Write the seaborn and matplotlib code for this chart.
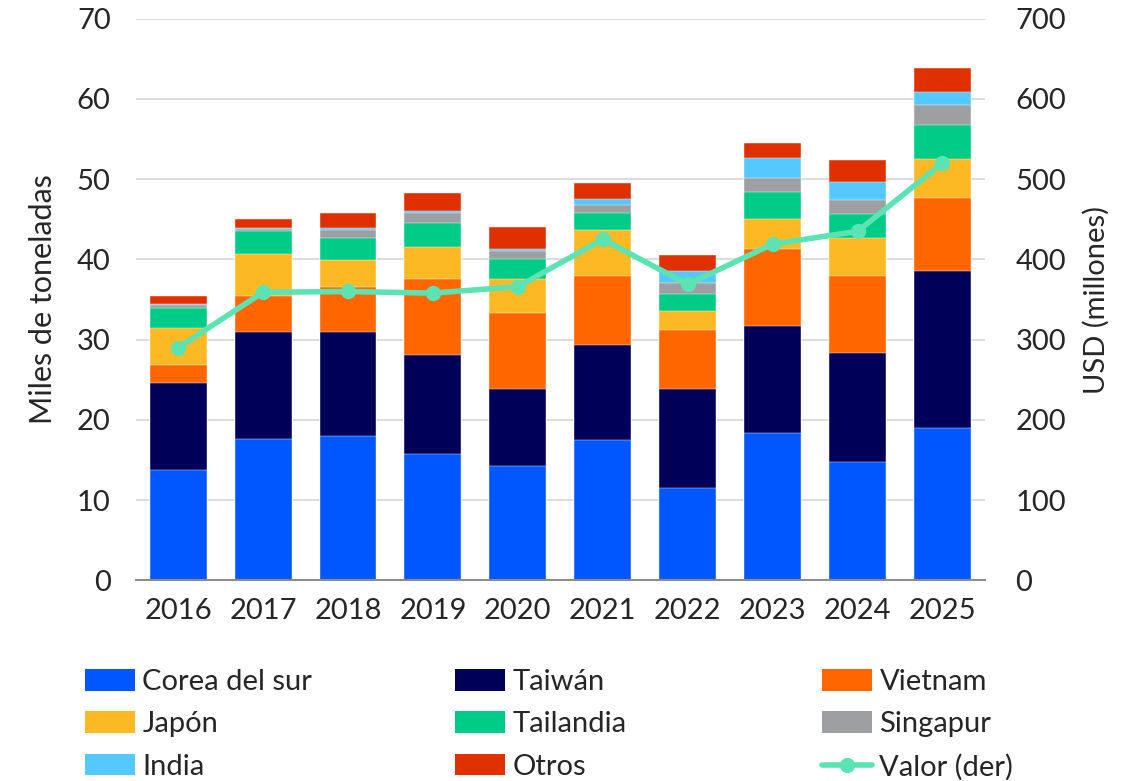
import numpy as np
import pandas as pd
import seaborn as sns
import matplotlib.pyplot as plt
from matplotlib.patches import Patch
from matplotlib.lines import Line2D

# --- data (miles de toneladas, USD millones) ---
years = ["2016", "2017", "2018", "2019", "2020", "2021", "2022", "2023", "2024", "2025"]
corea = [13.7, 17.6, 18.0, 15.8, 14.2, 17.5, 11.5, 18.3, 14.7, 19.0]
taiwan = [10.9, 13.4, 12.9, 12.3, 9.7, 11.8, 12.3, 13.4, 13.6, 19.6]
vietnam = [2.2, 4.4, 5.7, 9.4, 9.4, 8.6, 7.4, 9.6, 9.6, 9.0]
japon = [4.6, 5.3, 3.3, 4.1, 4.3, 5.8, 2.4, 3.7, 4.8, 4.9]
tailandia = [2.6, 2.9, 2.8, 3.0, 2.4, 2.1, 2.1, 3.4, 3.0, 4.3]
singapur = [0.3, 0.2, 1.0, 1.2, 1.0, 1.0, 1.3, 1.7, 1.7, 2.4]
india = [0.1, 0.1, 0.2, 0.2, 0.3, 0.7, 1.5, 2.5, 2.3, 1.7]
otros = [1.0, 1.1, 1.9, 2.3, 2.7, 2.0, 2.0, 1.9, 2.7, 3.0]
valor = [290, 359, 360, 358, 366, 425, 369, 419, 435, 520]

series = ["Corea del sur", "Taiwán", "Vietnam", "Japón", "Tailandia", "Singapur", "India", "Otros"]
colors = ["#0057FF", "#000059", "#FF6600", "#FDB924", "#00CC88", "#9D9FA2", "#55C8FF", "#E03000"]
line_color = "#5BE3B3"

sns.set_theme(style="white")
plt.rcParams["font.family"] = ["Lato", "DejaVu Sans"]
FS = 21

df = pd.DataFrame(
    {"year": years, "Corea del sur": corea, "Taiwán": taiwan, "Vietnam": vietnam,
     "Japón": japon, "Tailandia": tailandia, "Singapur": singapur, "India": india, "Otros": otros}
)
cum = df[series].cumsum(axis=1)

fig = plt.figure(figsize=(11.4, 7.81), dpi=100)
ax = fig.add_axes([0.119, 0.257, 0.745, 0.719])

# stacked bars: draw cumulative totals from the top layer down
for name, col in reversed(list(zip(series, colors))):
    sns.barplot(x=df["year"], y=cum[name], color=col, width=0.67, ax=ax,
                saturation=1, edgecolor="white", linewidth=0.3)

ax.set_ylim(0, 70)
ax.set_yticks(range(0, 71, 10))
ax.yaxis.grid(True, color="#D9D9D9", linewidth=1.3)
ax.set_axisbelow(True)
ax.set_xlabel("")
ax.set_ylabel("Miles de toneladas", fontsize=FS + 1, labelpad=14)
ax.tick_params(axis="both", labelsize=FS, length=0)
ax.tick_params(axis="x", pad=13)
ax.tick_params(axis="y", pad=18)
for s in ["top", "left", "right"]:
    ax.spines[s].set_visible(False)
ax.spines["bottom"].set_color("#8C8C8C")
ax.spines["bottom"].set_linewidth(1.5)
ax.set_xlim(-0.5, len(years) - 0.5)

# valor on right axis
ax2 = ax.twinx()
sns.lineplot(x=np.arange(len(years)), y=valor, ax=ax2, color=line_color, linewidth=4,
             marker="o", markersize=11, markeredgewidth=0)
ax2.set_ylim(0, 700)
ax2.set_yticks(range(0, 701, 100))
ax2.set_ylabel("USD (millones)", fontsize=FS, labelpad=12)
ax2.tick_params(axis="y", labelsize=FS, length=0, pad=22)
for s in ["top", "left", "right", "bottom"]:
    ax2.spines[s].set_visible(False)
ax2.set_xlim(-0.5, len(years) - 0.5)

# legend: three separate columns to match spacing
handles = {n: Patch(facecolor=c, edgecolor="none") for n, c in zip(series, colors)}
handles["Valor (der)"] = Line2D([], [], color=line_color, linewidth=4, marker="o", markersize=11,
                                markeredgewidth=0)
columns = [
    (["Corea del sur", "Japón", "India"], 85),
    (["Taiwán", "Tailandia", "Otros"], 455),
    (["Vietnam", "Singapur", "Valor (der)"], 822),
]
for labels, x0 in columns:
    fig.legend([handles[l] for l in labels], labels, loc="upper left",
               bbox_to_anchor=(x0 / 1140, 1 - 669 / 781), frameon=False, fontsize=FS,
               handlelength=1.72, handleheight=0.76, handletextpad=0.25, labelspacing=0.56,
               borderaxespad=0, borderpad=0)

fig.savefig("out.png", dpi=100)
